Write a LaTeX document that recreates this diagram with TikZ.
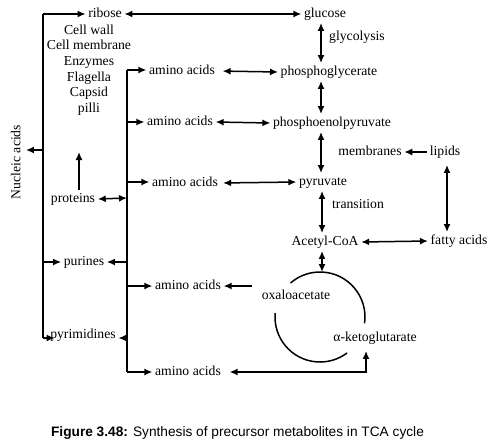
\documentclass[tikz,border=0pt]{standalone}
\usepackage{fontspec}
\setmainfont{Liberation Serif}
\newfontfamily\capfont{Liberation Sans}
\usetikzlibrary{arrows.meta,calc}
\begin{document}
\begin{tikzpicture}[x=1pt,y=-1pt,
  lbl/.style={font=\fontsize{13.7}{15.7}\selectfont, inner sep=2.5pt, text height=9.5pt, text depth=3pt},
  blk/.style={font=\fontsize{13.7}{15.7}\selectfont, inner sep=0pt, align=center},
  con/.style={line width=1.5pt},
  >={Latex[length=8pt,width=7pt]}]
\useasboundingbox (0,0) rectangle (494,442);
\fill[white] (0,0) rectangle (494,442);
% nodes
\node[lbl] (ribose) at (105,14) {ribose};
\node[lbl, rotate=90] (nuc) at (17,162) {Nucleic acids};
\node[blk] (cells) at (89,70) {Cell wall\\Cell membrane\\Enzymes\\Flagella\\Capsid\\pilli};
\node[lbl] (proteins) at (73,199) {proteins};
\node[lbl] (purines) at (84,262) {purines};
\node[lbl] (pyrim) at (83,335) {pyrimidines};
\node[lbl] (aa1) at (182,71) {amino acids};
\node[lbl] (aa2) at (180,122) {amino acids};
\node[lbl] (aa3) at (185,183) {amino acids};
\node[lbl] (aa4) at (188,286) {amino acids};
\node[lbl] (aa5) at (188,372) {amino acids};
\node[lbl] (glucose) at (325,14) {glucose};
\node[lbl] (glyc) at (357,37) {glycolysis};
\node[lbl] (pg) at (329,72) {phosphoglycerate};
\node[lbl] (pep) at (332,123) {phosphoenolpyruvate};
\node[lbl] (membr) at (370,152) {membranes};
\node[lbl] (lipids) at (445,152) {lipids};
\node[lbl] (pyr) at (323,182) {pyruvate};
\node[lbl] (trans) at (358,205) {transition};
\node[lbl] (acoa) at (325,242) {Acetyl-CoA};
\node[lbl] (fatty) at (459,241) {fatty acids};
\node[lbl] (oxalo) at (296,296) {oxaloacetate};
\node[lbl] (akg) at (375,338) {α-ketoglutarate};
\node[font=\capfont\fontsize{13.7}{15.7}\selectfont, inner sep=0pt] (cap) at (237.5,433) {\textbf{Figure 3.48:} Synthesis of precursor metabolites in TCA cycle};
% coordinates
\coordinate (L1) at (43,14);
\coordinate (L2) at (43,150);
\coordinate (L3) at (43,262);
\coordinate (L4) at (43,338);
\coordinate (R1) at (127,70);
\coordinate (R2) at (127,122);
\coordinate (R3) at (127,182);
\coordinate (R4) at (127,198);
\coordinate (R5) at (127,262);
\coordinate (R6) at (127,286);
\coordinate (R7) at (127,338);
\coordinate (R8) at (127,372);
\coordinate (vx) at (321,0);
\coordinate (lx) at (447,0);
\coordinate (PU) at (79,152);
\coordinate (cyc) at (320,317);
\coordinate (CT) at (322,272);
\coordinate (O1) at (252,286);
\coordinate (K1) at (366,372);
% left trunk
\draw[con] (L1) -- (L4);
\draw[con,->] (L1) -- (ribose.west);
\draw[con,->] (L2) -- (nuc.south |- L2);
\draw[con,->] (L3) -- (purines.west);
\draw[con,->] (L4) -- ([xshift=7pt]pyrim.west |- L4);
% second trunk
\draw[con] (R1) -- (R8);
\draw[con,->] (R1) -- (aa1.west |- R1);
\draw[con,->] (R2) -- (aa2.west |- R2);
\draw[con,->] (R3) -- (aa3.west |- R3);
\draw[con,->] (R6) -- (aa4.west |- R6);
\draw[con,->] (R8) -- (aa5.west |- R8);
\draw[con,<->] (proteins.east) -- (R4);
\draw[con,->] (R5) -- (purines.east);
\draw[con,->] (R7) -- (pyrim.east |- R7);
\draw[con,->] ([xshift=6pt]proteins.north) -- (PU);
% right side
\draw[con,<->] (ribose.east) -- (glucose.west);
\draw[con,<->,shorten <=5pt] (aa1.east) -- (pg.west);
\draw[con,<->] (aa2.east) -- (pep.west);
\draw[con,<->,shorten <=2.5pt] (aa3.east) -- (pyr.west);
\draw[con,->] (O1) -- (aa4.east);
\draw[con,<->,shorten <=6pt,shorten >=4pt] (aa5.east) -- (K1) -- (akg.south -| K1);
\draw[con,<->] (glucose.south -| vx) -- (pg.north -| vx);
\draw[con,<->] (pg.south -| vx) -- (pep.north -| vx);
\draw[con,<->] (pep.south -| vx) -- (pyr.north -| vx);
\draw[con,<->] (pyr.south -| CT) -- (acoa.north -| CT);
\draw[con,<->] (acoa.south -| CT) -- (CT);
\draw[con,<->] (acoa.east) -- (fatty.west);
\draw[con,->] (lipids.west) -- (membr.east);
\draw[con,<->,shorten <=4pt] (lipids.south -| lx) -- (fatty.north -| lx);
% TCA cycle
\draw[con] ([shift={(131:45pt)}]cyc) arc[start angle=131,end angle=-8,radius=45pt];
\draw[con] ([shift={(175:45pt)}]cyc) arc[start angle=175,end angle=307,radius=45pt];
\end{tikzpicture}
\end{document}
